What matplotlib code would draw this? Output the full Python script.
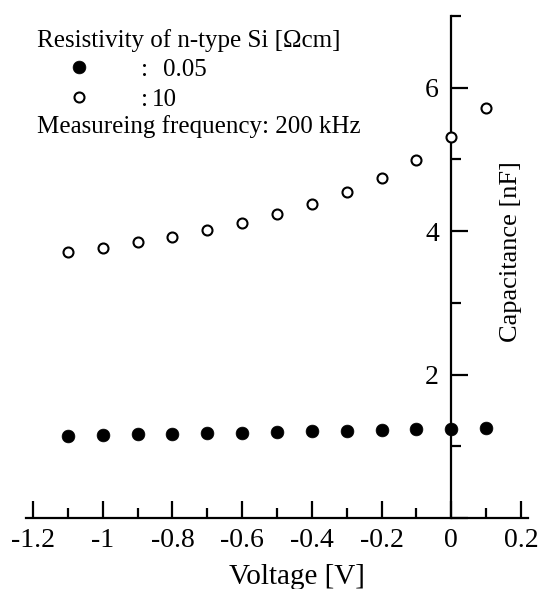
import matplotlib
matplotlib.use("Agg")
import matplotlib.pyplot as plt
from matplotlib.ticker import FixedLocator

plt.rcParams['font.family'] = ['Liberation Serif', 'DejaVu Serif']
plt.rcParams['axes.unicode_minus'] = False

voltage = [-1.1, -1.0, -0.9, -0.8, -0.7, -0.6, -0.5, -0.4, -0.3, -0.2, -0.1, 0.0, 0.1]
cap_005 = [1.14, 1.155, 1.165, 1.175, 1.18, 1.19, 1.20, 1.21, 1.22, 1.23, 1.24, 1.24, 1.25]
cap_10 = [3.71, 3.76, 3.85, 3.92, 4.01, 4.12, 4.24, 4.38, 4.54, 4.74, 4.99, 5.31, 5.72]

x_major = [-1.2, -1.0, -0.8, -0.6, -0.4, -0.2, 0.0, 0.2]
x_labels = ['-1.2', '-1', '-0.8', '-0.6', '-0.4', '-0.2', '0', '0.2']
x_minor = [-1.1, -0.9, -0.7, -0.5, -0.3, -0.1, 0.1]
y_major = [0, 2, 4, 6]
y_labels = ['', '2', '4', '6']
y_minor = [1, 3, 5, 7]

W, H = 542, 589
fig = plt.figure(figsize=(W / 100, H / 100), dpi=100)

def fx(px):
    return px / W

def fy(py):
    return 1 - py / H

ax = fig.add_axes([fx(26), fy(518), fx(528) - fx(26), fy(16) - fy(518)])
ax.set_xlim(-1.22, 0.22)
ax.set_ylim(0, 7)

ax.spines['top'].set_visible(False)
ax.spines['right'].set_visible(False)
ax.spines['left'].set_position(('data', 0))
ax.spines['bottom'].set_position(('data', 0))
for s in ('left', 'bottom'):
    ax.spines[s].set_linewidth(1.6)

ax.xaxis.set_major_locator(FixedLocator(x_major))
ax.xaxis.set_minor_locator(FixedLocator(x_minor))
ax.set_xticklabels(x_labels)
ax.yaxis.set_major_locator(FixedLocator(y_major))
ax.yaxis.set_minor_locator(FixedLocator(y_minor))
ax.set_yticklabels(y_labels)

ax.tick_params(axis='x', which='major', direction='in', length=12, width=1.6,
               labelsize=20, pad=7)
ax.tick_params(axis='x', which='minor', direction='in', length=7, width=1.6)
ax.tick_params(axis='y', which='major', direction='in', length=12, width=1.6,
               labelsize=20, pad=9)
ax.tick_params(axis='y', which='minor', direction='in', length=7, width=1.6)

ax.plot(voltage, cap_005, linestyle='none', marker='o', markersize=9.2,
        markerfacecolor='black', markeredgecolor='black', markeredgewidth=0.5,
        clip_on=False, zorder=5)
ax.plot(voltage, cap_10, linestyle='none', marker='o', markersize=7.2,
        markerfacecolor='white', markeredgecolor='black', markeredgewidth=1.5,
        clip_on=False, zorder=5)

fig.text(fx(297), fy(584), 'Voltage [V]', ha='center', va='baseline', fontsize=21)
fig.text(fx(511), fy(252), 'Capacitance [nF]', ha='center', va='center',
         rotation=90, fontsize=19)

# legend
fs = 18
fig.text(fx(37), fy(47), 'Resistivity of n-type Si [\u03a9cm]', ha='left',
         va='baseline', fontsize=fs)
fig.text(fx(141), fy(76), ':', ha='left', va='baseline', fontsize=fs)
fig.text(fx(163), fy(76), '0.05', ha='left', va='baseline', fontsize=fs)
fig.text(fx(141), fy(106), ':', ha='left', va='baseline', fontsize=fs)
fig.text(fx(152), fy(106), '10', ha='left', va='baseline', fontsize=fs)
fig.text(fx(37), fy(133), 'Measureing frequency: 200 kHz', ha='left',
         va='baseline', fontsize=fs)
ax.plot([fx(79)], [fy(67)], transform=fig.transFigure, linestyle='none', marker='o',
        markersize=9.2, markerfacecolor='black', markeredgecolor='black',
        markeredgewidth=0.5, clip_on=False)
ax.plot([fx(79)], [fy(97)], transform=fig.transFigure, linestyle='none', marker='o',
        markersize=7.2, markerfacecolor='white', markeredgecolor='black',
        markeredgewidth=1.5, clip_on=False)

fig.savefig('out.png', dpi=100)
